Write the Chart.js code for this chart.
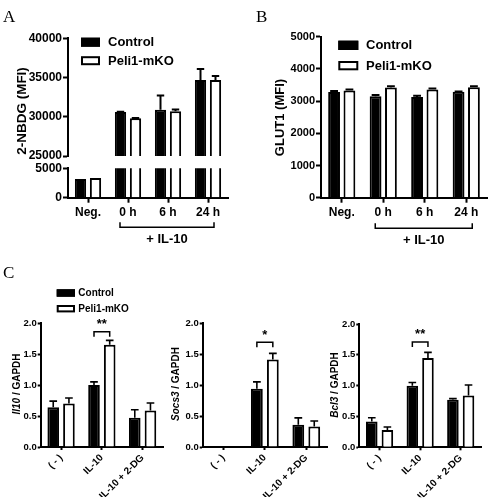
<!DOCTYPE html>
<html>
<head>
<meta charset="utf-8">
<script src="https://cdn.jsdelivr.net/npm/chart.js@4.4.0/dist/chart.umd.min.js"></script>
<style>
body{margin:0;background:#fff;}
#wrap{position:relative;width:492px;height:502px;background:#fff;}
#wrap canvas{position:absolute;left:0;top:0;}
</style>
</head>
<body>
<div id="wrap">
<canvas id="aTop" width="492" height="502"></canvas>
<canvas id="aLow" width="492" height="502"></canvas>
<canvas id="bChart" width="492" height="502"></canvas>
<canvas id="c1" width="492" height="502"></canvas>
<canvas id="c2" width="492" height="502"></canvas>
<canvas id="c3" width="492" height="502"></canvas>
</div>
<script>
// ---- data ----
const seriesNames = ['Control', 'Peli1-mKO'];

// A : 2-NBDG (MFI), broken axis
const groupsAB = ['Neg.', '0 h', '6 h', '24 h'];
const nbdgControl = [3200, 30600, 30900, 34700];
const nbdgControlErr = [0, 50, 1800, 1400];
const nbdgKO = [3350, 29800, 30700, 34700];
const nbdgKOErr = [0, 50, 220, 500];
const nbdgTicksTop = [25000, 30000, 35000, 40000];
const nbdgTicksLow = [0, 5000];

// B : GLUT1 (MFI)
const glutControl = [3280, 3150, 3130, 3290];
const glutControlErr = [30, 40, 40, 10];
const glutKO = [3330, 3420, 3360, 3430];
const glutKOErr = [30, 40, 30, 30];
const glutTicks = [0, 1000, 2000, 3000, 4000, 5000];

// C : mRNA / GAPDH
const groupsC = ['( - )', 'IL-10', 'IL-10 + 2-DG'];
const relTicks = [0, 0.5, 1.0, 1.5, 2.0];
const il10Control = [0.64, 1.0, 0.47];
const il10ControlErr = [0.10, 0.05, 0.13];
const il10KO = [0.70, 1.65, 0.59];
const il10KOErr = [0.09, 0.07, 0.12];
const socs3Control = [0.01, 0.94, 0.36];
const socs3ControlErr = [0, 0.11, 0.11];
const socs3KO = [0.01, 1.41, 0.33];
const socs3KOErr = [0, 0.10, 0.09];
const bcl3Control = [0.42, 1.0, 0.77];
const bcl3ControlErr = [0.06, 0.05, 0.02];
const bcl3KO = [0.28, 1.45, 0.84];
const bcl3KOErr = [0.05, 0.09, 0.17];

const FONT = "'Liberation Sans', Arial, sans-serif";
Chart.defaults.font.family = FONT;
Chart.defaults.color = '#000';

// error bars (upper half only, like the original)
const errorBars = {
  id: 'errorBars',
  afterDatasetsDraw(chart) {
    const ctx = chart.ctx, a = chart.chartArea, y = chart.scales.y;
    ctx.save();
    ctx.beginPath(); ctx.rect(a.left, a.top - 2, a.right - a.left, a.bottom - a.top + 2); ctx.clip();
    ctx.strokeStyle = '#000';
    ctx.lineWidth = chart.options.ew || 2;
    chart.data.datasets.forEach((ds, i) => {
      chart.getDatasetMeta(i).data.forEach((bar, j) => {
        const v = ds.data[j], e = ds.errors[j];
        if (!e || v > y.max) return;
        const top = y.getPixelForValue(v + e);
        const half = bar.width * 0.33;
        ctx.beginPath();
        ctx.moveTo(bar.x, bar.y); ctx.lineTo(bar.x, top);
        ctx.moveTo(bar.x - half, top); ctx.lineTo(bar.x + half, top);
        ctx.stroke();
      });
    });
    ctx.restore();
  }
};

function drawLegend(ctx, x, y, bw, bh, dy, tx, size) {
  seriesNames.forEach((name, i) => {
    const top = y + i * dy;
    ctx.fillStyle = i == 0 ? '#000' : '#fff';
    ctx.fillRect(x, top, bw, bh);
    ctx.strokeStyle = '#000'; ctx.lineWidth = 2;
    ctx.strokeRect(x + 1, top + 1, bw - 2, bh - 2);
    ctx.fillStyle = '#000';
    ctx.font = 'bold ' + size + 'px ' + FONT;
    ctx.textAlign = 'left'; ctx.textBaseline = 'middle';
    ctx.fillText(name, tx, top + bh / 2 + 0.5);
  });
}

// rotated axis title, parts may be italic
function drawYTitle(ctx, parts, cx, cy, size) {
  ctx.save();
  ctx.translate(cx, cy); ctx.rotate(-Math.PI / 2);
  ctx.fillStyle = '#000'; ctx.textBaseline = 'middle'; ctx.textAlign = 'left';
  const fontOf = p => (p.it ? 'italic ' : '') + 'bold ' + size + 'px ' + FONT;
  let w = 0;
  parts.forEach(p => { ctx.font = fontOf(p); w += ctx.measureText(p.t).width; });
  let x = -w / 2;
  parts.forEach(p => { ctx.font = fontOf(p); ctx.fillText(p.t, x, 0); x += ctx.measureText(p.t).width; });
  ctx.restore();
}

function drawLetter(ctx, ch, x, y) {
  ctx.fillStyle = '#000'; ctx.font = "17px 'Liberation Serif', 'DejaVu Serif', serif";
  ctx.textAlign = 'left'; ctx.textBaseline = 'alphabetic';
  ctx.fillText(ch, x, y);
}

// "+ IL-10" bracket under 0 h .. 24 h
function drawIL10Bracket(chart, dy) {
  const ctx = chart.ctx, x = chart.scales.x, b = chart.chartArea.bottom;
  const l = x.getPixelForValue(1) - 8, r = x.getPixelForValue(3) + 6, y = b + dy;
  ctx.strokeStyle = '#000'; ctx.lineWidth = 1.5;
  ctx.beginPath();
  ctx.moveTo(l, y - 5); ctx.lineTo(l, y); ctx.lineTo(r, y); ctx.lineTo(r, y - 5);
  ctx.stroke();
  ctx.fillStyle = '#000'; ctx.font = 'bold 13px ' + FONT;
  ctx.textAlign = 'center'; ctx.textBaseline = 'middle';
  ctx.fillText('+ IL-10', (l + r) / 2, y + 12);
}

// significance bracket over IL-10 pair
function drawSig(chart, level, mark) {
  const ctx = chart.ctx, y = chart.scales.y;
  const b0 = chart.getDatasetMeta(0).data[1], b1 = chart.getDatasetMeta(1).data[1];
  const py = y.getPixelForValue(level);
  ctx.strokeStyle = '#000'; ctx.lineWidth = 1.5;
  ctx.beginPath();
  ctx.moveTo(b0.x, py + 5); ctx.lineTo(b0.x, py); ctx.lineTo(b1.x, py); ctx.lineTo(b1.x, py + 5);
  ctx.stroke();
  ctx.fillStyle = '#000'; ctx.font = 'bold 13px ' + FONT;
  ctx.textAlign = 'center'; ctx.textBaseline = 'middle';
  ctx.fillText(mark, (b0.x + b1.x) / 2, py - 7);
}

// o.area = [left, top, right, bottom] of the plot box in page pixels
function makeChart(id, o) {
  const yW = o.yW, xH = o.xShow ? o.xH : 0;
  return new Chart(document.getElementById(id), {
    type: 'bar',
    data: {
      labels: o.labels,
      datasets: o.series.map((s, i) => ({
        label: seriesNames[i],
        data: s[0],
        errors: s[1],
        backgroundColor: i == 0 ? '#000' : '#fff',
        borderColor: '#000',
        borderWidth: o.bw,
        categoryPercentage: o.cat,
        barPercentage: o.bar,
        clip: 0
      }))
    },
    options: {
      responsive: false,
      animation: false,
      devicePixelRatio: 1,
      ew: o.ew,
      layout: {padding: {left: o.area[0] - yW, top: o.area[1], right: 492 - o.area[2], bottom: 502 - o.area[3] - xH}},
      plugins: {legend: {display: false}, tooltip: {enabled: false}},
      scales: {
        x: {
          display: o.xShow,
          offset: true,
          grid: {drawOnChartArea: false, offset: false, tickLength: o.xtl, tickWidth: 2, tickColor: '#000'},
          border: {display: true, color: '#000', width: 2},
          ticks: {color: '#000', font: {size: o.xFont, weight: 'bold'}, padding: o.xPad,
                  minRotation: o.rot, maxRotation: o.rot, autoSkip: false},
          afterFit: s => { s.height = xH; }
        },
        y: {
          min: o.yTicks[0],
          max: o.yTicks[o.yTicks.length - 1],
          afterBuildTicks: s => { s.ticks = o.yTicks.map(v => ({value: v})); },
          grid: {drawOnChartArea: false, tickLength: o.ytl, tickWidth: 2, tickColor: '#000'},
          border: {color: '#000', width: 2},
          ticks: {color: '#000', font: {size: o.yFont, weight: 'bold'}, padding: o.yPad, callback: o.fmt},
          afterFit: s => { s.width = yW; }
        }
      }
    },
    plugins: [errorBars, {id: 'deco', afterDraw: chart => o.draw && o.draw(chart)}]
  });
}

/* ---------------- panel A ---------------- */
const aSeries = [[nbdgControl, nbdgControlErr], [nbdgKO, nbdgKOErr]];
const aCommon = {labels: groupsAB, series: aSeries, yW: 68, bw: 2, ew: 2, cat: 0.75, bar: 0.75,
  xFont: 12, xPad: 3, xtl: 5, rot: 0, ytl: 5, yPad: 1, yFont: 12, fmt: v => String(v)};

makeChart('aTop', Object.assign({}, aCommon, {
  area: [68, 38.3, 228, 156], yTicks: nbdgTicksTop, xShow: false,
  draw: chart => {
    const ctx = chart.ctx;
    drawLetter(ctx, 'A', 3, 22);
    drawLegend(ctx, 81, 37.7, 19, 9, 18.5, 108, 13);
    drawYTitle(ctx, [{t: '2-NBDG (MFI)'}], 22, 111, 13.5);
  }
}));

makeChart('aLow', Object.assign({}, aCommon, {
  area: [68, 168.3, 228, 197.7], yTicks: nbdgTicksLow, xShow: true, xH: 40,
  draw: chart => drawIL10Bracket(chart, 29.6)
}));

/* ---------------- panel B ---------------- */
makeChart('bChart', {
  labels: groupsAB, series: [[glutControl, glutControlErr], [glutKO, glutKOErr]],
  area: [321, 36.7, 487, 197.7], yW: 40, xShow: true, xH: 40,
  bw: 2, ew: 2, cat: 0.74, bar: 0.77,
  xFont: 12, xPad: 3, xtl: 5, rot: 0, ytl: 5, yPad: 1, yFont: 11,
  yTicks: glutTicks, fmt: v => String(v),
  draw: chart => {
    const ctx = chart.ctx;
    drawLetter(ctx, 'B', 256, 22);
    drawLegend(ctx, 338.3, 40.7, 20, 9.3, 20.3, 366, 13);
    drawYTitle(ctx, [{t: 'GLUT1 (MFI)'}], 280, 117.5, 13);
    drawIL10Bracket(chart, 30.6);
  }
});

/* ---------------- panel C ---------------- */
const cCommon = {labels: groupsC, yW: 30, xShow: true, xH: 50, bw: 2, ew: 1.6, cat: 0.77, bar: 0.74,
  xFont: 10, xPad: 2, xtl: 3, rot: 45, ytl: 3, yPad: 1, yFont: 9.5,
  yTicks: relTicks, fmt: v => v.toFixed(1)};

makeChart('c1', Object.assign({}, cCommon, {
  series: [[il10Control, il10ControlErr], [il10KO, il10KOErr]],
  area: [40.7, 323, 163, 447],
  draw: chart => {
    const ctx = chart.ctx;
    drawLetter(ctx, 'C', 3, 278);
    drawLegend(ctx, 56.7, 289.3, 18.3, 7.4, 15.7, 78.3, 10);
    drawYTitle(ctx, [{t: 'Il10', it: true}, {t: ' / GAPDH'}], 17, 384, 10);
    drawSig(chart, 1.86, '**');
  }
}));

makeChart('c2', Object.assign({}, cCommon, {
  series: [[socs3Control, socs3ControlErr], [socs3KO, socs3KOErr]],
  area: [202.7, 323, 327, 447],
  draw: chart => {
    drawYTitle(chart.ctx, [{t: 'Socs3', it: true}, {t: ' / GAPDH'}], 176, 384, 10);
    drawSig(chart, 1.69, '*');
  }
}));

makeChart('c3', Object.assign({}, cCommon, {
  series: [[bcl3Control, bcl3ControlErr], [bcl3KO, bcl3KOErr]],
  area: [359.3, 324, 481, 447.3],
  draw: chart => {
    drawYTitle(chart.ctx, [{t: 'Bcl3', it: true}, {t: ' / GAPDH'}], 335, 385, 10);
    drawSig(chart, 1.71, '**');
  }
}));
</script>
</body>
</html>
